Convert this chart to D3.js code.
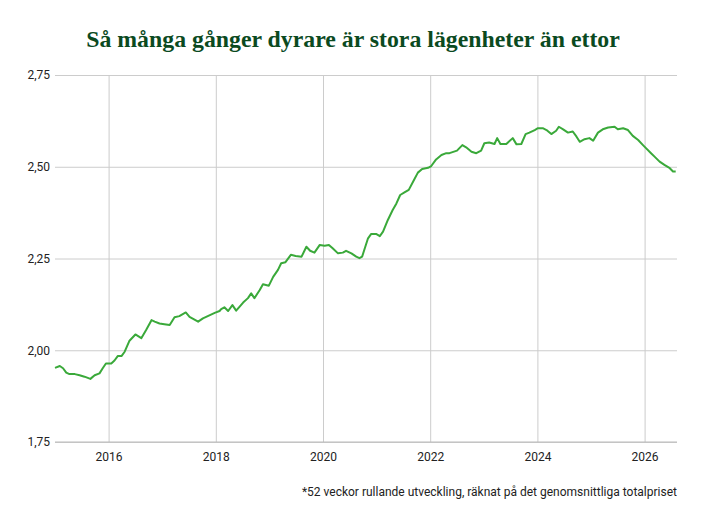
<!DOCTYPE html>
<html>
<head>
<meta charset="utf-8">
<script src="https://cdn.jsdelivr.net/npm/d3@7"></script>
<style>
  html, body { margin: 0; padding: 0; background: #fff; }
  svg { display: block; }
</style>
</head>
<body>
<svg id="chart" width="703" height="523"></svg>
<script>
// Decimal year of each observation
const years = [
  2015.00, 2015.09, 2015.15, 2015.21, 2015.27, 2015.37, 2015.46, 2015.55, 2015.66, 2015.74,
  2015.83, 2015.89, 2015.95, 2016.05, 2016.11, 2016.17, 2016.24, 2016.30, 2016.39, 2016.50,
  2016.61, 2016.70, 2016.80, 2016.86, 2016.95, 2017.04, 2017.14, 2017.23, 2017.32, 2017.44,
  2017.51, 2017.67, 2017.76, 2017.85, 2017.98, 2018.07, 2018.10, 2018.16, 2018.23, 2018.31,
  2018.38, 2018.51, 2018.60, 2018.66, 2018.72, 2018.82, 2018.88, 2018.99, 2019.07, 2019.16,
  2019.22, 2019.30, 2019.40, 2019.49, 2019.60, 2019.69, 2019.76, 2019.84, 2019.94, 2020.03,
  2020.11, 2020.18, 2020.28, 2020.37, 2020.43, 2020.53, 2020.62, 2020.68, 2020.73, 2020.78,
  2020.84, 2020.90, 2020.99, 2021.06, 2021.12, 2021.21, 2021.30, 2021.37, 2021.44, 2021.52,
  2021.60, 2021.68, 2021.77, 2021.85, 2021.96, 2022.02, 2022.11, 2022.21, 2022.30, 2022.36,
  2022.50, 2022.60, 2022.67, 2022.77, 2022.86, 2022.95, 2023.01, 2023.10, 2023.20, 2023.25,
  2023.31, 2023.42, 2023.54, 2023.61, 2023.70, 2023.78, 2023.85, 2023.95, 2024.01, 2024.10,
  2024.17, 2024.26, 2024.35, 2024.40, 2024.48, 2024.57, 2024.66, 2024.73, 2024.79, 2024.88,
  2024.97, 2025.04, 2025.13, 2025.22, 2025.32, 2025.44, 2025.50, 2025.60, 2025.69, 2025.78,
  2025.88, 2025.97, 2026.03, 2026.12, 2026.19, 2026.28, 2026.37, 2026.47, 2026.53, 2026.58
];
// Price ratio: large apartments vs. one-room apartments
const ratios = [
  1.952, 1.957, 1.951, 1.939, 1.935, 1.935, 1.932, 1.928, 1.922, 1.932,
  1.937, 1.951, 1.964, 1.964, 1.972, 1.984, 1.984, 1.996, 2.026, 2.043,
  2.033, 2.055, 2.082, 2.078, 2.073, 2.071, 2.069, 2.090, 2.093, 2.103,
  2.091, 2.078, 2.087, 2.093, 2.102, 2.107, 2.112, 2.117, 2.107, 2.123,
  2.108, 2.130, 2.142, 2.155, 2.142, 2.164, 2.180, 2.176, 2.200, 2.219,
  2.237, 2.240, 2.260, 2.257, 2.255, 2.282, 2.271, 2.266, 2.287, 2.285,
  2.287, 2.278, 2.264, 2.266, 2.271, 2.264, 2.255, 2.251, 2.255, 2.278,
  2.305, 2.317, 2.317, 2.311, 2.323, 2.355, 2.382, 2.400, 2.423, 2.430,
  2.437, 2.459, 2.484, 2.494, 2.497, 2.502, 2.520, 2.532, 2.537, 2.537,
  2.544, 2.559, 2.553, 2.541, 2.537, 2.544, 2.564, 2.566, 2.562, 2.578,
  2.562, 2.562, 2.578, 2.561, 2.562, 2.589, 2.593, 2.600, 2.605, 2.605,
  2.600, 2.589, 2.598, 2.609, 2.602, 2.593, 2.596, 2.582, 2.568, 2.575,
  2.578, 2.571, 2.593, 2.602, 2.607, 2.609, 2.602, 2.605, 2.600, 2.584,
  2.573, 2.559, 2.550, 2.537, 2.527, 2.514, 2.505, 2.496, 2.487, 2.487
];
const xTicks = [2016, 2018, 2020, 2022, 2024, 2026];
const yTicks = [1.75, 2.00, 2.25, 2.50, 2.75];
const title = "Så många gånger dyrare är stora lägenheter än ettor";
const footnote = "*52 veckor rullande utveckling, räknat på det genomsnittliga totalpriset";

const svg = d3.select("#chart");
const mLeft = 55, mRight = 677, mTop = 75, mBottom = 442;

const x = d3.scaleLinear()
  .domain([2015, 2015 + (mRight - mLeft) / 53.6])
  .range([mLeft, mRight]);
const y = d3.scaleLinear().domain([1.75, 2.75]).range([mBottom, mTop]);

const fmt = v => d3.format(".2f")(v).replace(".", ",");

// Title: fit font size to the reference width (~534px)
const titleText = svg.append("text")
  .attr("x", 353).attr("y", 47)
  .attr("text-anchor", "middle")
  .attr("font-family", "'Liberation Serif', 'DejaVu Serif', serif")
  .attr("font-weight", "bold")
  .attr("font-size", 24)
  .attr("fill", "#0b4a1f")
  .text(title);
const tw = titleText.node().getComputedTextLength();
if (tw > 0) {
  const fs = Math.min(26, 24 * 534 / tw);
  titleText.attr("font-size", fs.toFixed(2));
}

// Horizontal grid + y labels
const yAxis = d3.axisLeft(y).tickValues(yTicks).tickSize(-(mRight - mLeft)).tickFormat(fmt).tickPadding(6);
const gy = svg.append("g").attr("transform", `translate(${mLeft},0)`).call(yAxis);
gy.select(".domain").remove();
gy.selectAll(".tick line").attr("stroke", "#cccccc").attr("stroke-width", 1);
gy.selectAll(".tick text")
  .attr("font-family", "Roboto, sans-serif").attr("font-size", 12).attr("fill", "#222")
  .attr("x", -5);

// Vertical grid + x labels
const xAxis = d3.axisBottom(x).tickValues(xTicks).tickSize(-(mBottom - mTop)).tickFormat(d3.format("d")).tickPadding(10);
const gx = svg.append("g").attr("transform", `translate(0,${mBottom})`).call(xAxis);
gx.select(".domain").remove();
gx.selectAll(".tick line").attr("stroke", "#cccccc").attr("stroke-width", 1);
gx.selectAll(".tick text")
  .attr("font-family", "Roboto, sans-serif").attr("font-size", 12).attr("fill", "#222");

// Baseline
svg.append("line")
  .attr("x1", mLeft).attr("x2", mRight).attr("y1", y(1.75)).attr("y2", y(1.75))
  .attr("stroke", "#bbbbbb").attr("stroke-width", 1);

// Line
const data = years.map((yr, i) => [yr, ratios[i]]);
svg.append("path")
  .datum(data)
  .attr("fill", "none")
  .attr("stroke", "#3aa93a")
  .attr("stroke-width", 2)
  .attr("stroke-linejoin", "round")
  .attr("d", d3.line().x(d => x(d[0])).y(d => y(d[1])));

// Footnote
svg.append("text")
  .attr("x", mRight).attr("y", 496)
  .attr("text-anchor", "end")
  .attr("font-family", "Roboto, sans-serif")
  .attr("font-size", 12)
  .attr("fill", "#222")
  .text(footnote);
</script>
</body>
</html>
